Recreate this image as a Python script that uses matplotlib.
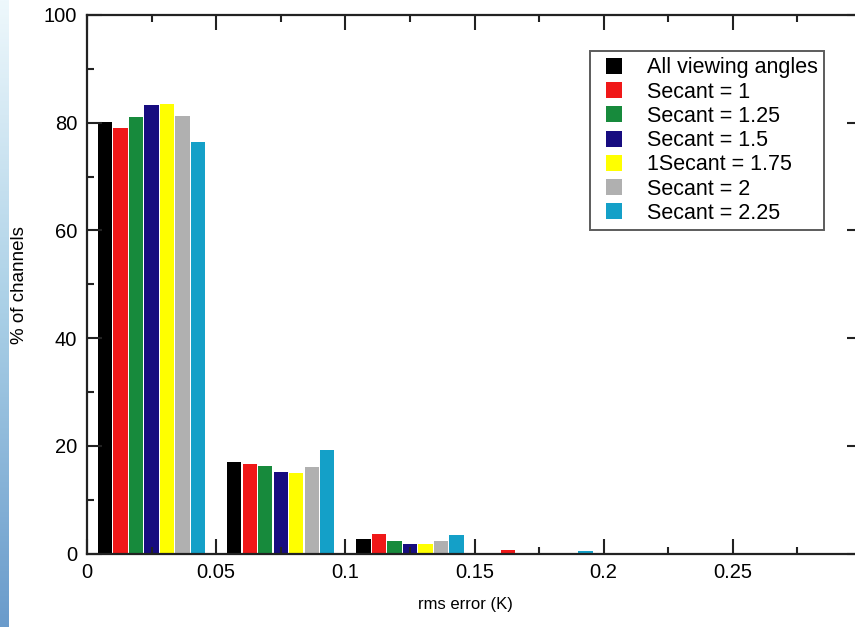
import numpy as np
import matplotlib
matplotlib.use("Agg")
import matplotlib.pyplot as plt
from matplotlib.lines import Line2D
from matplotlib.colors import LinearSegmentedColormap

plt.rcParams['font.family'] = ['Liberation Sans', 'DejaVu Sans']

# ---- data ----
bin_centers = [0.025, 0.075, 0.125, 0.175, 0.225, 0.275]
series_names = ["All viewing angles", "Secant = 1", "Secant = 1.25", "Secant = 1.5",
                "1Secant = 1.75", "Secant = 2", "Secant = 2.25"]
all_angles = [80.2, 17.0, 2.7, 0.15, 0.1, 0.0]
secant_1 = [79.0, 16.6, 3.6, 0.6, 0.1, 0.0]
secant_125 = [81.1, 16.2, 2.4, 0.1, 0.0, 0.0]
secant_15 = [83.3, 15.1, 1.8, 0.05, 0.0, 0.0]
secant_175 = [83.5, 14.9, 1.8, 0.05, 0.0, 0.0]
secant_2 = [81.3, 16.1, 2.4, 0.05, 0.0, 0.0]
secant_225 = [76.5, 19.2, 3.4, 0.5, 0.1, 0.0]
xticks = [0, 0.05, 0.1, 0.15, 0.2, 0.25]
xtick_labels = ["0", "0.05", "0.1", "0.15", "0.2", "0.25"]
yticks = [0, 20, 40, 60, 80, 100]

series = [all_angles, secant_1, secant_125, secant_15, secant_175, secant_2, secant_225]
colors = ["#000000", "#f01818", "#178a3c", "#170c80", "#ffff00", "#b0b0b0", "#14a0c8"]

W, H = 855, 627
fig = plt.figure(figsize=(W / 100, H / 100), dpi=100)

# left gradient strip (background decoration)
gax = fig.add_axes([0, 0, 8 / W, 1])
cmap = LinearSegmentedColormap.from_list("g", ["#eef8fc", "#a9cfe6", "#6a9bcb"])
gax.imshow(np.linspace(0, 1, 256).reshape(-1, 1), aspect='auto', cmap=cmap)
gax.axis('off')

left = 87 / W
bottom = 1 - 553.5 / H
top = 1 - 15 / H
ax = fig.add_axes([left, bottom, 775 / W, top - bottom])

step = 0.006
bw = 0.0056
n = len(series)
centers = np.array(bin_centers)
for i, (vals, c, name) in enumerate(zip(series, colors, series_names)):
    ax.bar(centers + (i - (n - 1) / 2) * step, vals, width=bw, color=c, linewidth=0, label=name)

ax.set_xlim(0, 0.3)
ax.set_ylim(0, 100)
ax.set_xticks(xticks)
ax.set_xticklabels(xtick_labels)
ax.set_xticks(np.arange(0.025, 0.3, 0.05), minor=True)
ax.set_yticks(yticks)
ax.set_yticks(np.arange(10, 100, 20), minor=True)
ax.tick_params(which='both', direction='in', top=True, right=True, width=1.5, color='#222222')
ax.tick_params(which='major', length=10.5, labelsize=14.5)
ax.tick_params(which='minor', length=5)
ax.tick_params(axis='x', pad=6.5)
ax.tick_params(axis='y', pad=7)
for s in ax.spines.values():
    s.set_linewidth(1.6)
    s.set_color('#222222')

ax.set_xlabel("rms error (K)", fontsize=12)
ax.xaxis.set_label_coords((465 - 87) / 775, -(605 - 553.5) / (553.5 - 15), transform=ax.transAxes)
ax.xaxis.label.set_va('center')
ax.set_ylabel("% of channels", fontsize=13.5)
ax.yaxis.set_label_coords(-(87 - 20) / 775, (553.5 - 285) / (553.5 - 15))
ax.yaxis.label.set_va('center')

handles = [Line2D([], [], marker='s', linestyle='none', markersize=11, color=c,
                  markeredgewidth=0) for c in colors]
leg = fig.legend(handles, series_names, loc='upper left',
                 bbox_to_anchor=(590 / W, 1 - 51 / H), fontsize=15.5,
                 frameon=True, fancybox=False, borderpad=0.3, labelspacing=0.15,
                 handlelength=1.65, handletextpad=0.7, borderaxespad=0)
leg.get_frame().set_edgecolor('#333333')
leg.get_frame().set_linewidth(1.4)

fig.savefig("out.png", dpi=100)
